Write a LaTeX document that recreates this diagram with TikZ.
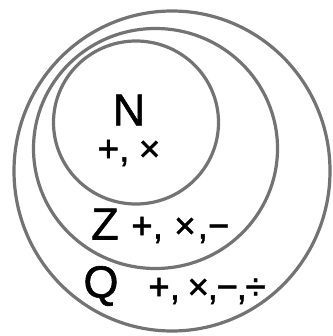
\documentclass[tikz,border=0pt]{standalone}
\usepackage{fontspec}
\setmainfont{Liberation Sans}[FakeBold=1.2]
\begin{document}
\begin{tikzpicture}[x=1pt,y=-1pt,
  ring/.style={draw=black!55, line width=3.2pt},
  setname/.style={font=\fontsize{45}{45}\selectfont, inner sep=0pt},
  ops/.style={font=\fontsize{37}{37}\selectfont, inner sep=0pt}]
\useasboundingbox (0,0) rectangle (332,336);
\draw[ring] (172,171) ellipse [x radius=158, y radius=160];
\draw[ring] (155.5,148.5) ellipse [x radius=122, y radius=120];
\draw[ring] (136,122.5) ellipse [x radius=82.5, y radius=81.5];
\node[setname] (N) at (129,110) {N};
\node[ops] (nops) at (129,153) {+,\hspace{0.25em}×};
\node[setname] (Z) at (105,224) {Z};
\node[ops, anchor=west] (zops) at (131,230) {+,\hspace{0.3em}×\hspace{0.05em},−};
\node[ops, anchor=west] (qops) at (148,291) {+,\hspace{0.2em}×\hspace{-0.04em},\hspace{-0.04em}−\hspace{-0.04em},\hspace{-0.04em}÷};
\node[setname] (Q) at (101,286) {Q};
\end{tikzpicture}
\end{document}
